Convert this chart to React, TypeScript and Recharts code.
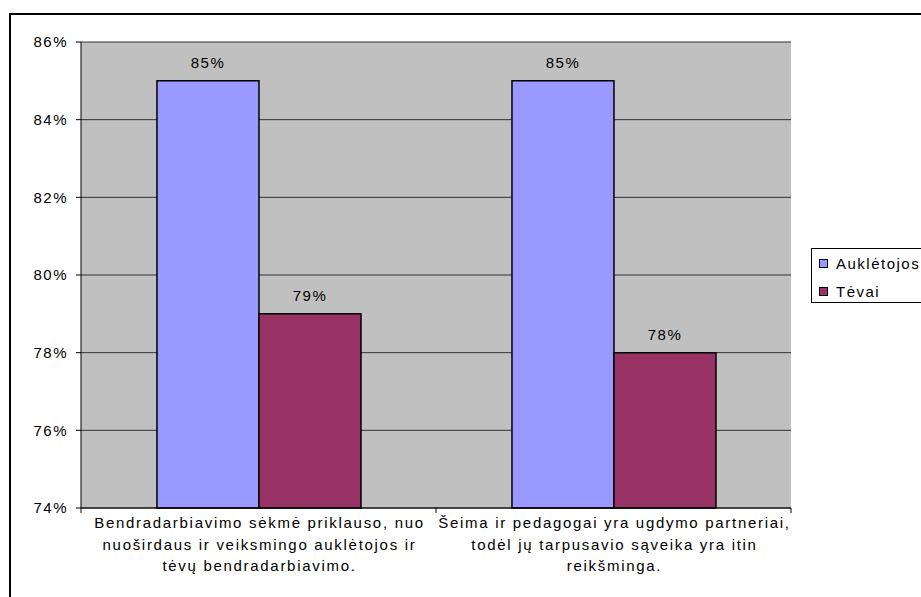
import React from "react";
import { BarChart, Bar, XAxis, YAxis, CartesianGrid, LabelList } from "recharts";

const categories = [
  "Bendradarbiavimo sėkmė priklauso, nuo\nnuoširdaus ir veiksmingo auklėtojos ir\ntėvų bendradarbiavimo.",
  "Šeima ir pedagogai yra ugdymo partneriai,\ntodėl jų tarpusavio sąveika yra itin\nreikšminga.",
];
const seriesNames = ["Auklėtojos", "Tėvai"];
const aukletojosValues = [85, 85];
const tevaiValues = [79, 78];
const yTicks = [74, 76, 78, 80, 82, 84, 86];
const seriesColors = ["#9999FF", "#993366"];

const data = categories.map((c, i) => ({
  cat: c,
  a: aukletojosValues[i],
  t: tevaiValues[i],
}));

const FONT = "'Liberation Sans', Arial, sans-serif";
const LS = 1.5;

const CatTick = (props: any) => {
  const { x, y, payload, index, visibleTicksCount } = props;
  const lines = String(payload.value).split("\n");
  const half = payload && typeof payload.offset === "number" ? payload.offset : 0;
  const isLast = index === (visibleTicksCount ?? categories.length) - 1;
  return (
    <g>
      {half > 0 && (
        <line x1={x - half} x2={x - half} y1={y} y2={y + 5} stroke="#000" strokeWidth={1} />
      )}
      {half > 0 && isLast && (
        <line x1={x + half} x2={x + half} y1={y} y2={y + 5} stroke="#000" strokeWidth={1} />
      )}
      {lines.map((l, i) => (
        <text
          key={i}
          x={x + 1}
          y={y + 20 + i * 21.5}
          textAnchor="middle"
          fontSize={15}
          fontFamily={FONT}
          letterSpacing={1.7}
          fill="#000"
        >
          {l}
        </text>
      ))}
    </g>
  );
};

export default function App() {
  return (
    <div
      style={{
        position: "absolute",
        left: 0,
        top: 0,
        width: 921,
        height: 597,
        overflow: "hidden",
        background: "#fff",
        fontFamily: FONT,
      }}
    >
      <div
        style={{
          position: "absolute",
          left: 9,
          top: 13,
          width: 1000,
          height: 700,
          border: "2px solid #000",
        }}
      />
      <div style={{ position: "absolute", left: 0, top: 0 }}>
        <BarChart
          width={921}
          height={597}
          data={data}
          margin={{ top: 42, right: 130, left: 0, bottom: 0 }}
          barCategoryGap="21.4%"
          barGap={0}
        >
          <CartesianGrid vertical={false} fill="#C0C0C0" stroke="#333" fillOpacity={1} />
          <XAxis
            dataKey="cat"
            height={89}
            interval={0}
            tickLine={false}
            tickSize={0}
            tickMargin={0}
            axisLine={{ stroke: "#000", strokeWidth: 1 }}
            tick={<CatTick />}
          />
          <XAxis
            xAxisId="top"
            orientation="top"
            type="number"
            domain={[0, 1]}
            tick={false}
            tickLine={false}
            axisLine={{ stroke: "#808080" }}
            height={0}
          />
          <YAxis
            type="number"
            domain={[74, 86]}
            ticks={yTicks}
            interval={0}
            width={81}
            tickSize={5}
            tickMargin={8}
            tickFormatter={(v: number) => `${v}%`}
            axisLine={{ stroke: "#000" }}
            tickLine={{ stroke: "#000" }}
            tick={{ fill: "#000", fontSize: 15, fontFamily: FONT, letterSpacing: LS }}
          />
          <YAxis
            yAxisId="r"
            orientation="right"
            type="number"
            domain={[74, 86]}
            width={0}
            tick={false}
            tickLine={false}
            axisLine={{ stroke: "#808080" }}
          />
          <Bar
            dataKey="a"
            name={seriesNames[0]}
            fill={seriesColors[0]}
            stroke="#000"
            strokeWidth={1.5}
            isAnimationActive={false}
          >
            <LabelList
              dataKey="a"
              position="top"
              offset={13}
              formatter={(v: any) => `${v}%`}
              fill="#000"
              fontSize={15}
              fontFamily={FONT}
              letterSpacing={LS}
            />
          </Bar>
          <Bar
            dataKey="t"
            name={seriesNames[1]}
            fill={seriesColors[1]}
            stroke="#000"
            strokeWidth={1.5}
            isAnimationActive={false}
          >
            <LabelList
              dataKey="t"
              position="top"
              offset={13}
              formatter={(v: any) => `${v}%`}
              fill="#000"
              fontSize={15}
              fontFamily={FONT}
              letterSpacing={LS}
            />
          </Bar>
        </BarChart>
      </div>
      <div
        style={{
          position: "absolute",
          left: 811,
          top: 248,
          width: 200,
          height: 53,
          border: "1px solid #000",
          background: "#fff",
        }}
      >
        {seriesNames.map((n, i) => (
          <div
            key={n}
            style={{
              position: "absolute",
              left: 7,
              top: 5 + i * 28,
              height: 18,
              display: "flex",
              alignItems: "center",
              fontSize: 15,
              letterSpacing: LS,
              color: "#000",
              whiteSpace: "nowrap",
            }}
          >
            <span
              style={{
                display: "inline-block",
                width: 7,
                height: 7,
                border: "1px solid #000",
                background: seriesColors[i],
                marginRight: 8,
              }}
            />
            {n}
          </div>
        ))}
      </div>
    </div>
  );
}
